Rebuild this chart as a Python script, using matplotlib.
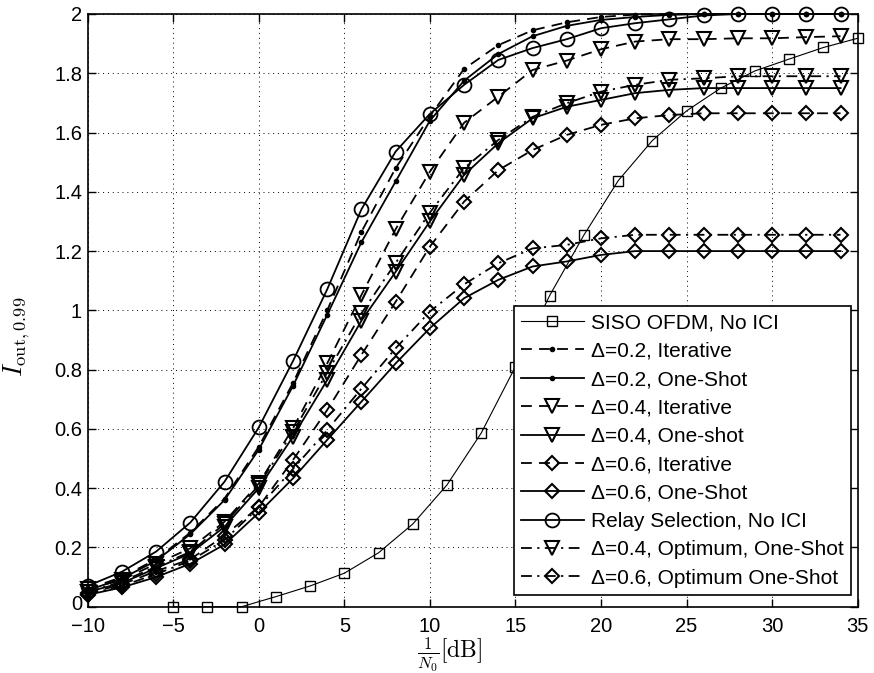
import matplotlib
matplotlib.use("Agg")
import matplotlib.pyplot as plt
import matplotlib.transforms as mtransforms
import numpy as np

plt.rcParams['font.family'] = ['Liberation Sans', 'DejaVu Sans']
plt.rcParams['mathtext.fontset'] = 'cm'

# ---- data ----
snr_even = [-10, -8, -6, -4, -2, 0, 2, 4, 6, 8, 10, 12, 14, 16, 18, 20, 22, 24, 26, 28, 30, 32, 34]
snr_odd = [-5, -3, -1, 1, 3, 5, 7, 9, 11, 13, 15, 17, 19, 21, 23, 25, 27, 29, 31, 33, 35]

siso = [0, 0, 0, 0.034, 0.07, 0.113, 0.182, 0.279, 0.411, 0.586, 0.81, 1.05, 1.254,
        1.437, 1.573, 1.673, 1.75, 1.808, 1.848, 1.887, 1.918]
d02_iter = [0.06, 0.10, 0.16, 0.25, 0.365, 0.54, 0.755, 1.0, 1.265, 1.48, 1.655, 1.815,
            1.895, 1.945, 1.972, 1.99, 1.998, 2.0, 2.0, 2.0, 2.0, 2.0, 2.0]
d02_one = [0.055, 0.095, 0.155, 0.245, 0.36, 0.53, 0.745, 0.985, 1.23, 1.435, 1.64, 1.775,
           1.865, 1.925, 1.96, 1.98, 1.99, 1.997, 2.0, 2.0, 2.0, 2.0, 2.0]
d04_iter = [0.06, 0.09, 0.145, 0.197, 0.287, 0.416, 0.602, 0.821, 1.052, 1.274, 1.468, 1.633,
            1.721, 1.811, 1.843, 1.881, 1.907, 1.915, 1.915, 1.918, 1.918, 1.922, 1.925]
d04_one = [0.05, 0.08, 0.13, 0.18, 0.27, 0.40, 0.574, 0.765, 0.965, 1.13, 1.30, 1.457,
           1.564, 1.648, 1.687, 1.71, 1.733, 1.744, 1.75, 1.75, 1.75, 1.75, 1.75]
d06_iter = [0.045, 0.075, 0.12, 0.16, 0.24, 0.337, 0.495, 0.664, 0.85, 1.029, 1.215, 1.367,
            1.473, 1.541, 1.592, 1.626, 1.648, 1.659, 1.665, 1.665, 1.665, 1.665, 1.665]
d06_one = [0.04, 0.065, 0.10, 0.145, 0.21, 0.317, 0.433, 0.563, 0.692, 0.821, 0.94, 1.041,
           1.103, 1.148, 1.165, 1.187, 1.2, 1.2, 1.2, 1.2, 1.2, 1.2, 1.2]
relay = [0.07, 0.118, 0.186, 0.284, 0.422, 0.605, 0.829, 1.071, 1.341, 1.536, 1.663, 1.761,
         1.845, 1.885, 1.915, 1.952, 1.969, 1.982, 1.995, 2.0, 2.0, 2.0, 2.0]
d04_opt = [0.05, 0.085, 0.135, 0.185, 0.28, 0.41, 0.59, 0.79, 0.99, 1.16, 1.33, 1.48,
           1.575, 1.653, 1.699, 1.738, 1.761, 1.778, 1.783, 1.79, 1.79, 1.79, 1.79]
d06_opt = [0.042, 0.07, 0.11, 0.155, 0.225, 0.335, 0.465, 0.596, 0.736, 0.872, 0.996, 1.088,
           1.159, 1.209, 1.221, 1.243, 1.255, 1.255, 1.255, 1.255, 1.255, 1.255, 1.255]

labels = ['SISO OFDM, No ICI', 'Δ=0.2, Iterative', 'Δ=0.2, One-Shot', 'Δ=0.4, Iterative',
          'Δ=0.4, One-shot', 'Δ=0.6, Iterative', 'Δ=0.6, One-Shot', 'Relay Selection, No ICI',
          'Δ=0.4, Optimum, One-Shot', 'Δ=0.6, Optimum One-Shot']

fig = plt.figure(figsize=(8.74, 6.73), dpi=100)
ax = fig.add_axes([0.1003, 0.0985, 0.8810, 0.8807])

dash = (0, (6, 4))
dashdot = (0, (6, 3, 1.2, 3))
common = dict(color='black', mfc='none', mec='black', clip_on=False)

ax.plot(snr_odd, siso, ls='-', lw=0.8, marker='s', ms=7, mew=1.0, label=labels[0], **common)
ax.plot(snr_even, d02_iter, ls=dash, lw=1.3, marker='.', ms=6, mfc='black', mec='black',
        color='black', clip_on=False, label=labels[1])
ax.plot(snr_even, d02_one, ls='-', lw=1.3, marker='.', ms=6, mfc='black', mec='black',
        color='black', clip_on=False, label=labels[2])
ax.plot(snr_even, d04_iter, ls=dash, lw=1.3, marker='v', ms=10, mew=1.5, label=labels[3], **common)
ax.plot(snr_even, d04_one, ls='-', lw=1.3, marker='v', ms=10, mew=1.5, label=labels[4], **common)
ax.plot(snr_even, d06_iter, ls=dash, lw=1.3, marker='D', ms=7.5, mew=1.5, label=labels[5], **common)
ax.plot(snr_even, d06_one, ls='-', lw=1.3, marker='D', ms=7.5, mew=1.5, label=labels[6], **common)
ax.plot(snr_even, relay, ls='-', lw=1.3, marker='o', ms=10, mew=1.3, label=labels[7], **common)
ax.plot(snr_even, d04_opt, ls=dashdot, lw=1.3, marker='v', ms=10, mew=1.5, label=labels[8], **common)
ax.plot(snr_even, d06_opt, ls=dashdot, lw=1.3, marker='D', ms=7.5, mew=1.5, label=labels[9], **common)

ax.set_xlim(-10, 35)
ax.set_ylim(0, 2)
ax.set_xticks(np.arange(-10, 36, 5))
ax.set_yticks(np.arange(0, 2.01, 0.2))
ax.set_yticklabels(['0', '0.2', '0.4', '0.6', '0.8', '1', '1.2', '1.4', '1.6', '1.8', '2'])
ax.tick_params(direction='in', top=True, right=True, labelsize=14.5, length=6, width=1.0)
ax.tick_params(axis='x', pad=7.5)
ax.tick_params(axis='y', pad=4)
ax.grid(True, ls=(0, (1, 4)), color='black', lw=0.7)
for s in ax.spines.values():
    s.set_linewidth(1.2)

# nudge the y "0" label up slightly so it does not touch the "-10" x label
lab0 = ax.get_yticklabels()[0]
lab0.set_transform(lab0.get_transform() +
                   mtransforms.ScaledTranslation(0, 3 / 72, fig.dpi_scale_trans))

ax.set_xlabel(r'$\frac{1}{N_0}[\mathrm{dB}]$', fontsize=17)
ax.xaxis.set_label_coords(0.47, -0.0485)
ax.set_ylabel(r'$I_{\mathrm{out},0.99}$', fontsize=19)
ax.yaxis.set_label_coords(-0.072, 0.455)

leg = ax.legend(loc='lower right', bbox_to_anchor=(0.9913, 0.0197), fontsize=15,
                handlelength=3.0, handletextpad=0.35, borderaxespad=0.0, labelspacing=0.45,
                fancybox=False, framealpha=1, edgecolor='black', borderpad=0.35)
leg.get_frame().set_linewidth(1.2)

fig.savefig('out.png', dpi=100)
